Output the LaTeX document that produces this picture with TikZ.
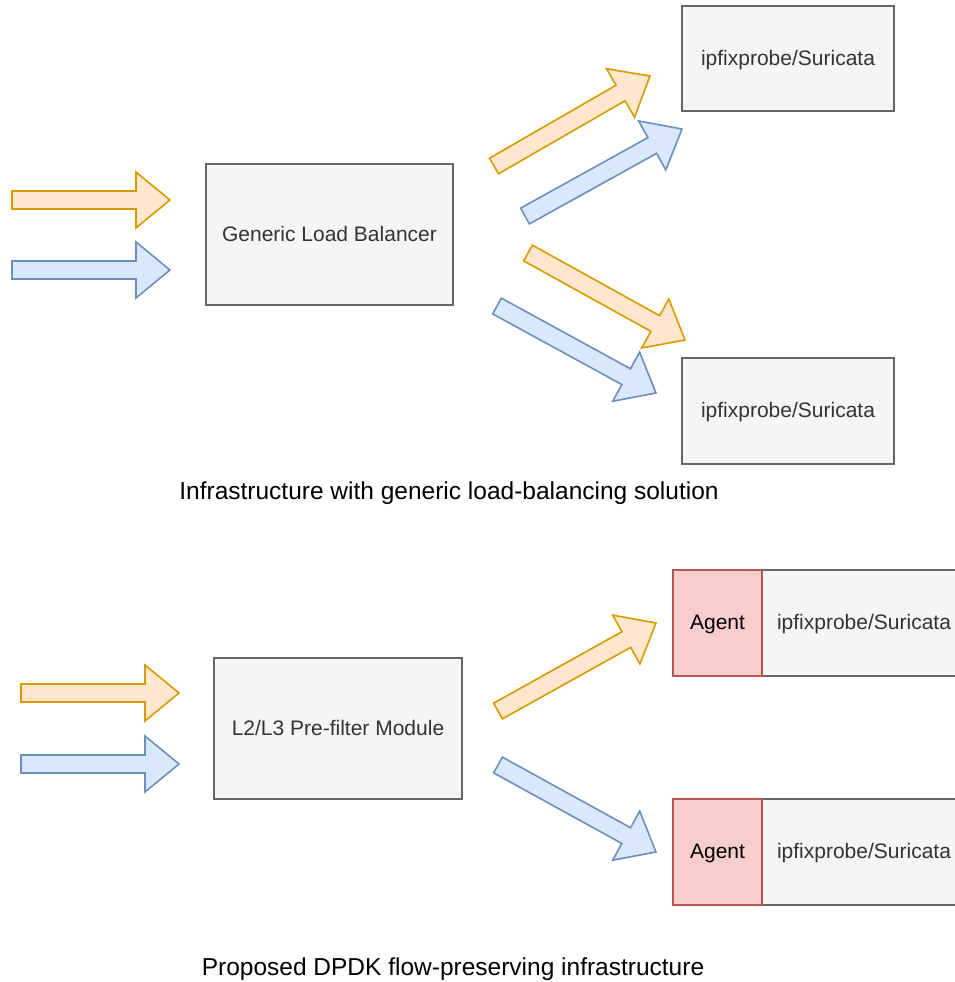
\documentclass[tikz,border=0pt]{standalone}
\usepackage{fontspec}
\setmainfont{Liberation Sans}
\usetikzlibrary{calc}
\definecolor{boxfill}{HTML}{F5F5F5}
\definecolor{boxdraw}{HTML}{666666}
\definecolor{boxtext}{HTML}{333333}
\definecolor{agfill}{HTML}{F8CECC}
\definecolor{agdraw}{HTML}{B85450}
\definecolor{orfill}{HTML}{FFE6CC}
\definecolor{ordraw}{HTML}{D79B00}
\definecolor{blfill}{HTML}{DAE8FC}
\definecolor{bldraw}{HTML}{6C8EBF}
\tikzset{
  box/.style={draw=boxdraw, fill=boxfill, line width=1.6pt, text=boxtext,
    font=\fontsize{21}{25}\selectfont, inner sep=0pt, text depth=2pt},
  agentbox/.style={draw=agdraw, fill=agfill, line width=1.6pt, text=black,
    font=\fontsize{21}{25}\selectfont, inner sep=0pt, text depth=2pt},
  caption/.style={text=black, font=\fontsize{24.5}{29}\selectfont, inner sep=0pt},
  orarrow/.style={draw=ordraw, fill=orfill, line width=1.6pt, line join=miter},
  blarrow/.style={draw=bldraw, fill=blfill, line width=1.6pt, line join=miter},
}
% block arrow: style, start coordinate, tip coordinate
\newcommand{\blockarr}[3]{%
  \draw[#1] let \p1=(#2), \p2=(#3),
    \n1={atan2(\y2-\y1,\x2-\x1)}, \n2={veclen(\x2-\x1,\y2-\y1)} in
    ($(\p1)+(\n1-90:9pt)$)
    -- ($(\p1)+(\n1:{(\n2-34)*1pt})+(\n1-90:9pt)$)
    -- ($(\p1)+(\n1:{(\n2-34)*1pt})+(\n1-90:28pt)$)
    -- (\p2)
    -- ($(\p1)+(\n1:{(\n2-34)*1pt})+(\n1+90:28pt)$)
    -- ($(\p1)+(\n1:{(\n2-34)*1pt})+(\n1+90:9pt)$)
    -- ($(\p1)+(\n1+90:9pt)$) -- cycle;%
}
\begin{document}
\begin{tikzpicture}[x=1pt,y=-1pt]
\useasboundingbox (0,0) rectangle (954,982);

% ---------- top section ----------
\node[box, minimum width=247pt, minimum height=141pt] (glb) at (329.5,234.5) {Generic Load Balancer};
\node[box, minimum width=212pt, minimum height=105pt] (ip1) at (788,58.5) {ipfixprobe/Suricata};
\node[box, minimum width=212pt, minimum height=106pt] (ip2) at (788,411) {ipfixprobe/Suricata};
\node[caption] (cap1) at (449,493) {Infrastructure with generic load-balancing solution};

\coordinate (a1s) at (12,200);  \coordinate (a1e) at (170,200);
\coordinate (a2s) at (12,270);  \coordinate (a2e) at (170,270);
\coordinate (a3s) at (494,166); \coordinate (a3e) at (650,76);
\coordinate (a4s) at (525,216); \coordinate (a4e) at (682,129);
\coordinate (a5s) at (528,253); \coordinate (a5e) at (685,340);
\coordinate (a6s) at (497,306); \coordinate (a6e) at (656,393);

\blockarr{orarrow}{a1s}{a1e}
\blockarr{blarrow}{a2s}{a2e}
\blockarr{orarrow}{a3s}{a3e}
\blockarr{blarrow}{a4s}{a4e}
\blockarr{orarrow}{a5s}{a5e}
\blockarr{blarrow}{a6s}{a6e}

% ---------- bottom section ----------
\node[box, minimum width=248pt, minimum height=141pt] (pfm) at (338,728.5) {L2/L3 Pre-filter Module};
\node[box, minimum width=204pt, minimum height=106pt] (ip3) at (864,623) {ipfixprobe/Suricata};
\node[agentbox, minimum width=89pt, minimum height=106pt] (ag1) at (717.5,623) {Agent};
\node[box, minimum width=204pt, minimum height=106pt] (ip4) at (864,852) {ipfixprobe/Suricata};
\node[agentbox, minimum width=89pt, minimum height=106pt] (ag2) at (717.5,852) {Agent};
\node[caption] (cap2) at (453,969) {Proposed DPDK flow-preserving infrastructure};

\coordinate (b1s) at (21,693);  \coordinate (b1e) at (179,693);
\coordinate (b2s) at (21,764);  \coordinate (b2e) at (179,764);
\coordinate (b3s) at (498,711); \coordinate (b3e) at (656,623);
\coordinate (b4s) at (498,765); \coordinate (b4e) at (656,852);

\blockarr{orarrow}{b1s}{b1e}
\blockarr{blarrow}{b2s}{b2e}
\blockarr{orarrow}{b3s}{b3e}
\blockarr{blarrow}{b4s}{b4e}
\end{tikzpicture}
\end{document}
